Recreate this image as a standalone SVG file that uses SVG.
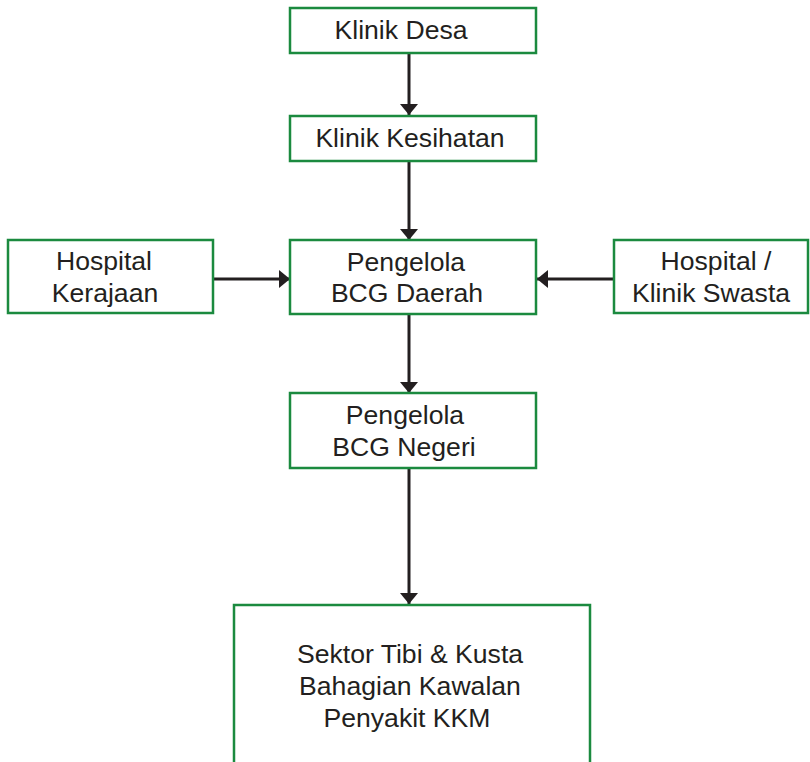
<svg xmlns="http://www.w3.org/2000/svg" width="810" height="762" viewBox="0 0 810 762">
<defs>
<style>
.box{fill:#fff;stroke:#1b8a3f;stroke-width:2.5}
.t{font-family:"Liberation Sans",Arial,sans-serif;font-size:26.6px;fill:#231f20;text-anchor:middle}
.c{stroke:#231f20;stroke-width:3;fill:none}
</style>
<marker id="ah" viewBox="0 0 11 18" refX="11" refY="9" markerWidth="11" markerHeight="18" markerUnits="userSpaceOnUse" orient="auto">
<path d="M0,0 L11,9 L0,18 Z" fill="#231f20"/>
</marker>
</defs>
<rect width="810" height="762" fill="#fff"/>
<g id="connectors">
<line class="c" x1="409" y1="53" x2="409" y2="115" marker-end="url(#ah)"/>
<line class="c" x1="409" y1="161" x2="409" y2="240" marker-end="url(#ah)"/>
<line class="c" x1="213" y1="279" x2="290" y2="279" marker-end="url(#ah)"/>
<line class="c" x1="614" y1="279" x2="537" y2="279" marker-end="url(#ah)"/>
<line class="c" x1="409" y1="314" x2="409" y2="393" marker-end="url(#ah)"/>
<line class="c" x1="409" y1="468" x2="409" y2="604" marker-end="url(#ah)"/>
</g>
<g id="klinik-desa">
<rect class="box" x="290" y="8" width="246" height="45"/>
<text class="t" x="401" y="39">Klinik Desa</text>
</g>
<g id="klinik-kesihatan">
<rect class="box" x="290" y="116" width="246" height="45"/>
<text class="t" x="410" y="147">Klinik Kesihatan</text>
</g>
<g id="hospital-kerajaan">
<rect class="box" x="8" y="240" width="205" height="73"/>
<text class="t" x="104" y="270">Hospital</text>
<text class="t" x="105" y="302">Kerajaan</text>
</g>
<g id="pengelola-daerah">
<rect class="box" x="290" y="240" width="246" height="74"/>
<text class="t" x="406" y="271">Pengelola</text>
<text class="t" x="407" y="302">BCG Daerah</text>
</g>
<g id="hospital-swasta">
<rect class="box" x="614" y="240" width="194" height="73"/>
<text class="t" x="716" y="270">Hospital /</text>
<text class="t" x="711" y="302">Klinik Swasta</text>
</g>
<g id="pengelola-negeri">
<rect class="box" x="290" y="393" width="246" height="75"/>
<text class="t" x="405" y="424">Pengelola</text>
<text class="t" x="404" y="456">BCG Negeri</text>
</g>
<g id="sektor-tibi">
<rect class="box" x="234" y="605" width="356" height="170"/>
<text class="t" x="410" y="663">Sektor Tibi &amp; Kusta</text>
<text class="t" x="410" y="695">Bahagian Kawalan</text>
<text class="t" x="407" y="727">Penyakit KKM</text>
</g>
</svg>
